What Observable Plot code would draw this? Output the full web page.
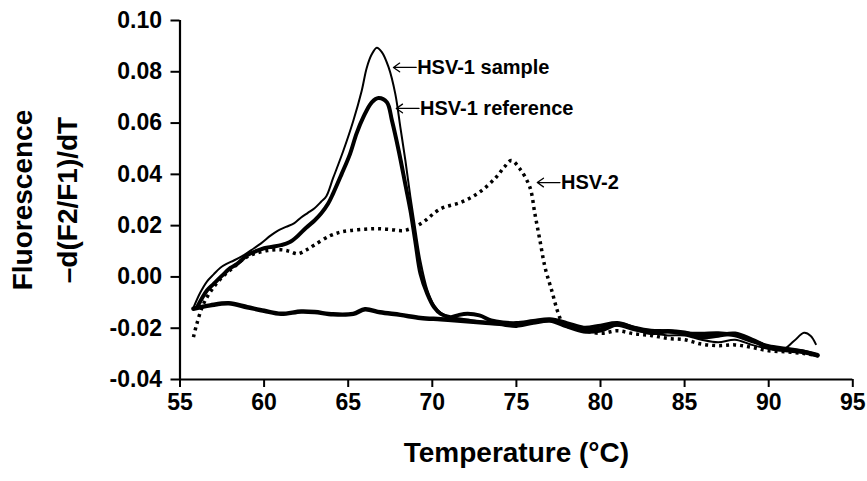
<!DOCTYPE html>
<html>
<head>
<meta charset="utf-8">
<script src="https://cdn.jsdelivr.net/npm/d3@7"></script>
<script src="https://cdn.jsdelivr.net/npm/@observablehq/plot@0.6"></script>
<style>
  html, body { margin: 0; padding: 0; background: #fff; }
  svg { font-family: "Liberation Sans", Arial, sans-serif; }
</style>
</head>
<body>
<div id="chart"></div>
<script>
// ---- data ----
const xTicks = [55, 60, 65, 70, 75, 80, 85, 90, 95];
const yTicks = [-0.04, -0.02, 0.00, 0.02, 0.04, 0.06, 0.08, 0.10];

const sampleT = [55.8,56.2,56.6,57.0,57.4,57.8,58.2,58.8,59.4,59.8,60.4,60.8,61.3,61.8,62.2,62.6,63.0,63.4,63.7,64.1,64.7,65.3,65.8,66.1,66.4,66.7,67.0,67.4,67.8,68.1,68.4,68.7,69.0,69.3,69.7,70.1,70.5,71.0,72,73,74,75,76,77,78,79,80,81,82,83,84,85,86,87,88,89,90,90.8,91.5,92.1,92.5,92.8];
const sampleV = [-0.0120,-0.0062,-0.0018,0.0010,0.0036,0.0052,0.0064,0.0085,0.0112,0.0130,0.0162,0.0180,0.0195,0.0210,0.0232,0.0250,0.0268,0.0294,0.0315,0.0385,0.0490,0.0608,0.0725,0.0815,0.0868,0.0894,0.0877,0.0818,0.0714,0.0584,0.0454,0.0311,0.0181,0.0060,-0.0050,-0.0110,-0.0140,-0.0155,-0.0165,-0.0175,-0.0180,-0.0185,-0.0180,-0.0172,-0.0190,-0.0205,-0.0200,-0.0190,-0.0208,-0.0220,-0.0228,-0.0228,-0.0245,-0.0255,-0.0245,-0.0265,-0.0280,-0.0285,-0.0250,-0.0218,-0.0230,-0.0262];

const refT = [56.0,56.6,57.0,57.5,58.0,58.4,59.0,59.5,60.0,60.5,61.0,61.5,62.0,62.5,63.0,63.4,63.8,64.1,64.6,65.1,65.5,65.9,66.4,66.8,67.3,67.6,68.0,68.4,68.7,69.0,69.3,69.7,70.1,70.5,71.1,71.6,72.1,72.8,73.5,74.2,75,76,77,78,79,80,81,82,83,84,85,86,87,88,89,90,91,92,92.9];
const refV = [-0.0120,-0.0053,-0.0027,0.0005,0.0035,0.0051,0.0085,0.0100,0.0112,0.0118,0.0124,0.0135,0.0160,0.0192,0.0220,0.0248,0.0285,0.0325,0.0400,0.0478,0.0560,0.0623,0.0681,0.0698,0.0681,0.0610,0.0493,0.0360,0.0259,0.0135,0.0012,-0.0066,-0.0118,-0.0144,-0.0157,-0.0148,-0.0144,-0.0150,-0.0170,-0.0178,-0.0180,-0.0172,-0.0165,-0.0180,-0.0198,-0.0190,-0.0180,-0.0198,-0.0210,-0.0212,-0.0220,-0.0222,-0.0220,-0.0228,-0.0250,-0.0270,-0.0280,-0.0290,-0.0307];

const hsv2T = [55.8,56.0,56.4,57.0,57.6,58.2,58.8,59.4,60.2,61.0,61.5,62.0,62.5,63.0,63.9,64.5,65.1,66.0,66.7,67.5,68.3,69.3,70.5,71.7,72.8,73.8,74.3,74.7,75.2,75.8,76.1,76.4,76.7,77.1,77.5,77.8,78.5,80,81,82,83,84,85,86,87,88,89,90,91,92,92.8];
const hsv2V = [-0.0235,-0.0183,-0.0105,-0.0040,0.0005,0.0038,0.0071,0.0090,0.0103,0.0106,0.0100,0.0090,0.0105,0.0125,0.0160,0.0174,0.0181,0.0186,0.0188,0.0185,0.0181,0.0207,0.0266,0.0291,0.0330,0.0389,0.0430,0.0454,0.0422,0.0350,0.0246,0.0142,0.0038,-0.0053,-0.0144,-0.0185,-0.0200,-0.0220,-0.0210,-0.0222,-0.0228,-0.0240,-0.0245,-0.0262,-0.0268,-0.0265,-0.0275,-0.0288,-0.0292,-0.0298,-0.0305];

const negT = [55.8,56.8,57.9,59.0,60.0,61.0,62.2,63.0,64.1,65.3,66.0,66.9,68.1,69.3,70.5,71.5,73,74,75,76,77,78,79,80,81,82,83,84,85,86,87,88,89,90,91,92,92.9];
const negV = [-0.0124,-0.0111,-0.0103,-0.0118,-0.0132,-0.0144,-0.0135,-0.0137,-0.0146,-0.0144,-0.0126,-0.0138,-0.0148,-0.0160,-0.0165,-0.0170,-0.0178,-0.0183,-0.0190,-0.0178,-0.0170,-0.0192,-0.0212,-0.0208,-0.0185,-0.0200,-0.0218,-0.0212,-0.0218,-0.0235,-0.0228,-0.0222,-0.0245,-0.0275,-0.0285,-0.0292,-0.0305];

const labelNames = ["HSV-1 sample", "HSV-1 reference", "HSV-2"];
const labelTipT  = [67.69, 67.86, 76.24];
const labelTipV  = [0.0817, 0.0657, 0.0368];

// ---- build tables ----
const toRows = (T, V) => T.map((t, i) => ({t, v: V[i]}));
const sample = toRows(sampleT, sampleV);
const ref = toRows(refT, refV);
const hsv2 = toRows(hsv2T, hsv2V);
const neg = toRows(negT, negV);
const labels = labelNames.map((name, i) => ({name, tip: labelTipT[i], tail: labelTipT[i] + 1.35, v: labelTipV[i]}));

const font = "'Liberation Sans', Arial, sans-serif";

const chart = Plot.plot({
  width: 867,
  height: 481,
  marginLeft: 179.5,
  marginRight: 14.7,
  marginTop: 20,
  marginBottom: 102,
  style: {fontFamily: font, background: "#fff", color: "#000"},
  x: {domain: [55, 95]},
  y: {domain: [-0.04, 0.10]},
  marks: [
    Plot.axisX({ticks: xTicks, tickSize: 8, tickPadding: 6, tickFormat: d => String(d),
      fontSize: 23, fontWeight: "bold", strokeWidth: 2, label: null}),
    Plot.axisY({ticks: yTicks, tickSize: 9, tickPadding: 9, tickFormat: d => d.toFixed(2),
      fontSize: 23, fontWeight: "bold", strokeWidth: 2, label: null}),
    Plot.ruleX([55], {stroke: "#000", strokeWidth: 2.2}),
    Plot.ruleY([-0.04], {stroke: "#000", strokeWidth: 2.2}),
    Plot.line(neg, {x: "t", y: "v", stroke: "#000", strokeWidth: 4.5, curve: "catmull-rom"}),
    Plot.line(hsv2, {x: "t", y: "v", stroke: "#000", strokeWidth: 3.5, strokeDasharray: "3,4", strokeLinecap: "butt", curve: "catmull-rom"}),
    Plot.line(ref, {x: "t", y: "v", stroke: "#000", strokeWidth: 4, curve: "catmull-rom"}),
    Plot.line(sample, {x: "t", y: "v", stroke: "#000", strokeWidth: 2, curve: "catmull-rom"}),
    Plot.arrow(labels, {x1: "tail", y1: "v", x2: "tip", y2: "v", stroke: "#000", strokeWidth: 1.3, headLength: 9, headAngle: 70, bend: 0}),
    Plot.text(labels, {x: "tail", y: "v", text: "name", textAnchor: "start", dx: 1,
      fontSize: 20, fontWeight: "bold", fill: "#000"}),
    Plot.text([0], {frameAnchor: "left", textAnchor: "middle", lineAnchor: "middle",
      text: () => "Fluorescence\n\u2013d(F2/F1)/dT", rotate: -90,
      dx: -140, lineHeight: 1.6, fontSize: 28, fontWeight: "bold", fill: "#000"}),
    Plot.text([0], {frameAnchor: "bottom", lineAnchor: "middle", text: () => "Temperature (\u00B0C)", dy: 74,
      fontSize: 28, fontWeight: "bold", fill: "#000"})
  ]
});
document.getElementById("chart").appendChild(chart);
</script>
</body>
</html>
